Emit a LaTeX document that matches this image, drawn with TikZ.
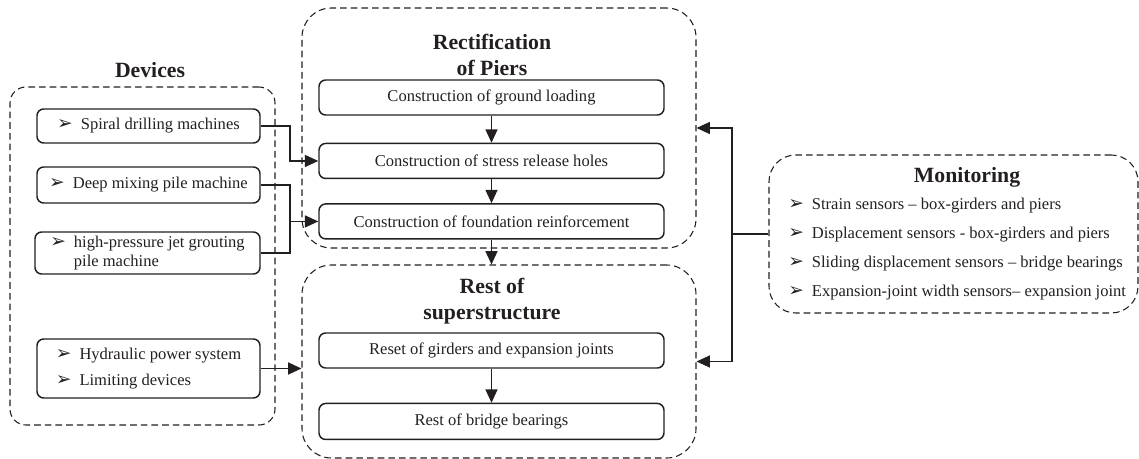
\documentclass[tikz,border=0pt]{standalone}
\usepackage{fontspec}
\setmainfont{Liberation Serif}
\newfontfamily\arrowfont{DejaVu Sans}
\usetikzlibrary{arrows.meta,positioning}
\definecolor{ink}{RGB}{35,31,32}
\newcommand{\bul}{{\arrowfont\fontsize{14}{14}\selectfont ➢}}
\newcommand{\bodyfont}{\fontsize{12.4}{15}\selectfont}
\newcommand{\ttlfont}{\fontsize{16.3}{19.5}\selectfont\bfseries}

\begin{document}
\begin{tikzpicture}[>={Triangle[length=10pt,width=9pt]},x=0.75pt,y=-0.75pt]
  \tikzset{
    grp/.style={draw=ink,dash pattern=on 5pt off 3pt,line width=0.8pt,inner sep=0pt},
    stepbox/.style={draw=ink,line width=1.1pt,rounded corners=5pt,minimum width=258.75pt,
                    minimum height=26.25pt,inner sep=0pt,font=\bodyfont,text=ink},
    devbox/.style={draw=ink,line width=1.1pt,rounded corners=5pt,minimum width=167.25pt,
                   inner sep=0pt,font=\bodyfont,align=left,text=ink},
    ttl/.style={font=\ttlfont,align=center,text=ink},
    link/.style={draw=ink,line width=1pt}
  }
  \useasboundingbox (0,0) rectangle (1139,459);

  \node[grp,rounded corners=12pt,minimum width=198.75pt,minimum height=253.5pt] (devgrp) at (142.5,256) {};
  \node[ttl] (devttl) at (150,70) {Devices};
  \node[devbox,minimum height=25.5pt] (spiral) at (148.5,126) {\bul\hspace{6pt}Spiral drilling machines};
  \node[devbox,minimum height=27pt] (deep) at (148.5,185) {\bul\hspace{6pt}Deep mixing pile machine};
  \node[devbox,minimum width=168.75pt,minimum height=31.5pt,font=\fontsize{12.4}{14.25}\selectfont] (hpjet) at (147.5,253)
    {\bul\hspace{6pt}\begin{tabular}[t]{@{}l@{}}high-pressure jet grouting\\pile machine\end{tabular}};
  \node[devbox,minimum height=44.25pt] (hydr) at (148.5,368.5)
    {\bul\hspace{6pt}Hydraulic power system\\[5pt]\bul\hspace{6pt}Limiting devices};

  \node[grp,rounded corners=22pt,minimum width=295.5pt,minimum height=180pt] (rectgrp) at (499,128) {};
  \node[ttl] (rectttl) at (492,55) {Rectification\\of Piers};
  \node[stepbox] (s1) at (491.5,97.5) {Construction of ground loading};
  \node[stepbox,below=20.25pt of s1] (s2) {Construction of stress release holes};
  \node[stepbox,below=18pt of s2] (s3) {Construction of foundation reinforcement};

  \node[grp,rounded corners=22pt,minimum width=295.5pt,minimum height=144.75pt] (restgrp) at (499,361.5) {};
  \node[ttl] (restttl) at (492,301.5) {Rest of\\superstructure};
  \node[stepbox] (r1) at (491.5,350.5) {Reset of girders and expansion joints};
  \node[stepbox,below=25.5pt of r1,minimum height=27pt] (r2) {Rest of bridge bearings};

  \node[grp,rounded corners=20pt,minimum width=276.75pt,minimum height=118.5pt] (mongrp) at (953.5,234) {};
  \node[ttl] (monttl) at (967,177) {Monitoring};
  \node[anchor=west,align=left,inner sep=0pt,text=ink,font=\fontsize{12.4}{21.75}\selectfont] (monlist) at (788,249)
    {\bul\hspace{6pt}Strain sensors -- box-girders and piers\\
     \bul\hspace{6pt}Displacement sensors - box-girders and piers\\
     \bul\hspace{6pt}Sliding displacement sensors -- bridge bearings\\
     \bul\hspace{6pt}Expansion-joint width sensors-- expansion joint};

  \coordinate (jl) at (290,126);
  \draw[link,->] (spiral.east) -| (jl |- s2.west) -- (s2.west);
  \draw[link] (deep.east) -| (jl |- hpjet.east) -- (hpjet.east);
  \draw[link,->] (jl |- s3.west) -- (s3.west);
  \draw[link,->] (hydr.east) -- (hydr.east -| restgrp.west);

  \draw[link,->] (s1) -- (s2);
  \draw[link,->] (s2) -- (s3);
  \draw[link,->] (s3.south) -- (s3.south |- restgrp.north);
  \draw[link,->] (r1) -- (r2);

  \coordinate (mj) at (732,234);
  \draw[link] (mongrp.west) -- (mj);
  \draw[link,->] (mj) |- (rectgrp.east);
  \draw[link,->] (mj) |- (restgrp.east);
\end{tikzpicture}
\end{document}
